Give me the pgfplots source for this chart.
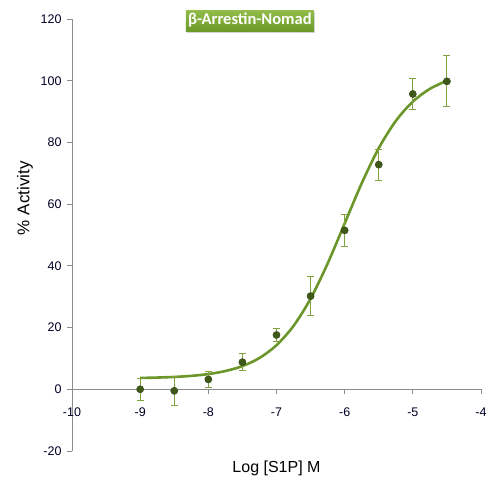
\documentclass[border=0pt]{standalone}
\usepackage{pgfplots}
\pgfplotsset{compat=1.18}
\usepackage{fontspec}
\setmainfont{Liberation Sans}
\newfontfamily\calibri{Carlito}
\usetikzlibrary{shadows}
\definecolor{curvegreen}{HTML}{6A962A}
\definecolor{errgreen}{HTML}{7FA23C}
\definecolor{markgreen}{HTML}{3F5A18}
\definecolor{axisgray}{HTML}{8C8C8C}
\definecolor{boxtop}{HTML}{93BC4A}
\definecolor{boxbot}{HTML}{6A9A28}
\begin{document}
\begin{tikzpicture}
\useasboundingbox (-72pt,-49pt) rectangle (428pt,451pt);
\begin{axis}[
  at={(0,0)}, anchor=south west,
  scale only axis, width=409pt, height=432pt,
  xmin=-10, xmax=-4, ymin=-20, ymax=120,
  axis y line=left, axis x line=middle,
  hide obscured x ticks=false, hide obscured y ticks=false,
  axis line style={axisgray, line width=0.9pt, -},
  xtick={-10,-9,-8,-7,-6,-5,-4},
  xticklabels={-10,-9,-8,-7,-6,-5,-4},
  ytick={-20,0,20,40,60,80,100,120},
  yticklabels={-20,0,20,40,60,80,100,120},
  tick style={axisgray, line width=0.9pt},
  major tick length=5pt,
  xtick align=outside, ytick align=outside,
  x tick label style={font=\fontsize{12.5}{14}\selectfont, color=black!85!blue, yshift=-10pt},
  y tick label style={font=\fontsize{12.5}{14}\selectfont, color=black!85!blue, xshift=-2pt},
  xlabel={Log [S1P] M},
  xlabel style={at={(rel axis cs:0.5,0)}, anchor=center, yshift=-17pt, font=\fontsize{16}{18}\selectfont},
  ylabel={\% Activity},
  ylabel style={at={(rel axis cs:-0.115,0.585)}, anchor=center, font=\fontsize{17}{19}\selectfont},
  clip=false,
]
\addplot[curvegreen, line width=2.6pt, smooth] coordinates {
(-9,3.67) (-8.75,3.80) (-8.5,4.00) (-8.25,4.35) (-8,4.93) (-7.75,5.91)
(-7.5,7.52) (-7.25,10.14) (-7,14.29) (-6.75,20.54) (-6.5,29.37)
(-6.25,40.75) (-6,53.75) (-5.75,66.75) (-5.5,78.13) (-5.25,86.96)
(-5,93.22) (-4.75,97.36) (-4.5,99.98)
};
\addplot[only marks, mark=*, mark size=3.6pt,
  mark options={fill=markgreen, draw=markgreen!70!black},
  error bars/.cd, y dir=both, y explicit,
  error bar style={draw=errgreen, line width=1pt},
  error mark options={rotate=90, mark size=3.5pt, draw=errgreen, line width=1pt}]
coordinates {
(-9,0) +- (0,3.5)
(-8.5,-0.5) +- (0,4.7)
(-8,3.2) +- (0,2.5)
(-7.5,8.8) +- (0,2.8)
(-7,17.6) +- (0,2.0)
(-6.5,30.2) +- (0,6.3)
(-6,51.5) +- (0,5.1)
(-5.5,72.8) +- (0,5.0)
(-5,95.7) +- (0,5.0)
(-4.5,99.8) +- (0,8.3)
};
\node[top color=boxtop, bottom color=boxbot, draw=none,
  minimum width=128pt, minimum height=21pt, inner sep=0pt,
  drop shadow={shadow xshift=1.5pt, shadow yshift=-2pt, opacity=0.35},
  text=white, font=\calibri\bfseries\fontsize{16.5}{18}\selectfont]
  at (rel axis cs:0.435,0.9965) {β-Arrestin-Nomad};
\end{axis}
\end{tikzpicture}
\end{document}
